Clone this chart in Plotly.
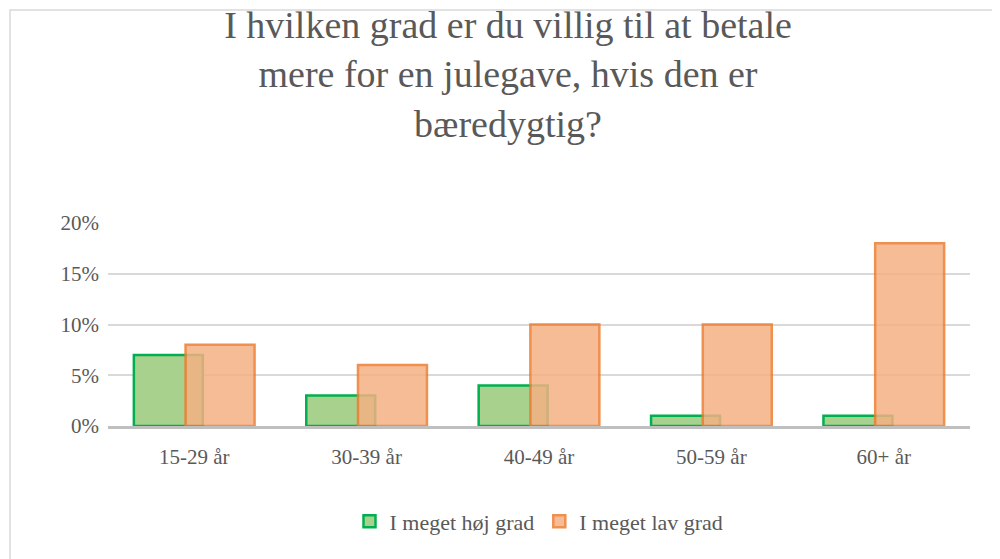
import plotly.graph_objects as go

categories = ["15-29 år", "30-39 år", "40-49 år", "50-59 år", "60+ år"]
hoej = [0.07, 0.03, 0.04, 0.01, 0.01]
lav = [0.08, 0.06, 0.10, 0.10, 0.18]

font = "Liberation Serif"
grey = "#595959"

fig = go.Figure()
fig.add_trace(go.Bar(x=categories, y=hoej, name="I meget høj grad",
                     width=0.4, offset=-0.35,
                     marker=dict(color="#a9d18e", line=dict(color="#00b050", width=2.5))))
fig.add_trace(go.Bar(x=categories, y=lav, name="I meget lav grad",
                     width=0.4, offset=-0.05, opacity=0.85,
                     marker=dict(color="#f4b183", line=dict(color="#ed7d31", width=2.5))))

# chart border (pixel coords converted to paper)
L, R, T, B, W, H = 100, 38, 215, 141, 1000, 559
pw, ph = W - L - R, H - T - B
fig.add_shape(type="rect", xref="paper", yref="paper",
              x0=(2 - L) / pw, x1=(997 - L) / pw,
              y0=(H - B - 556) / ph, y1=(H - B - 2) / ph,
              line=dict(color="#d9d9d9", width=1.5), layer="below")

fig.update_layout(
    width=W, height=H, barmode="overlay",
    paper_bgcolor="white", plot_bgcolor="white",
    margin=dict(l=L, r=R, t=T, b=B, autoexpand=False),
    title=dict(text="I hvilken grad er du villig til at betale<br>mere for en julegave, hvis den er<br>bæredygtig?",
               x=0.5, xanchor="center", yref="container", y=1 - 30 / H, yanchor="top",
               font=dict(family=font, size=38, color=grey)),
    font=dict(family=font, size=21, color=grey),
    legend=dict(orientation="h", x=0.5, xanchor="center", y=-0.47, yanchor="middle",
                font=dict(family=font, size=22, color=grey)),
    showlegend=True,
)
fig.update_yaxes(range=[0, 0.2], dtick=0.05, tickformat=".0%", gridcolor="#d9d9d9",
                 gridwidth=1.5, zeroline=False, showline=False, ticks="", ticklabelstandoff=8)
fig.update_xaxes(showline=True, linecolor="#bfbfbf", linewidth=2.5, ticks="",
                 ticklabelstandoff=10)

fig.write_html("out.html")
